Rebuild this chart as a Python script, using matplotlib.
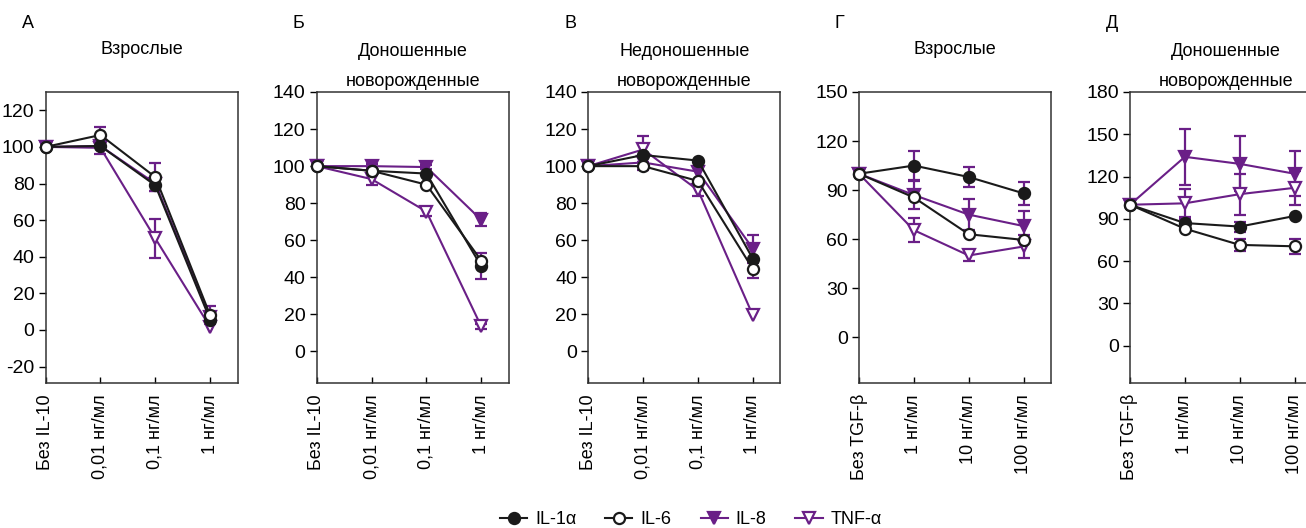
import matplotlib
matplotlib.use("Agg")
import matplotlib.pyplot as plt
from matplotlib.lines import Line2D

plt.rcParams['font.family'] = ['Liberation Sans', 'DejaVu Sans']
plt.rcParams['font.size'] = 13
plt.rcParams['axes.unicode_minus'] = False

PURPLE = "#6a1f87"
BLACK = "#1a1a1a"

labels_il10 = ["Без IL-10", "0,01 нг/мл", "0,1 нг/мл", "1 нг/мл"]
labels_tgf = ["Без TGF-β", "1 нг/мл", "10 нг/мл", "100 нг/мл"]

# A - adults, IL-10
a_il1a = [100, 100.5, 79, 5.5]
a_il1a_err = [0, 0, 3, 0]
a_il6 = [100, 106.5, 83.5, 8]
a_il6_err = [0, 4.5, 7.5, 5]
a_il8 = [100, 100.5, 80, 7]
a_il8_err = [0, 0, 0, 0]
a_tnf = [100, 99.5, 50, 1.5]
a_tnf_err = [0, 3.5, 10.5, 0]

# Б - term newborns, IL-10
b_il1a = [100, 97.5, 96, 46]
b_il1a_err = [0, 0, 0, 7]
b_il6 = [100, 97.5, 90, 49]
b_il6_err = [0, 0, 0, 0]
b_il8 = [100, 100, 99.5, 71]
b_il8_err = [0, 1, 1, 3.5]
b_tnf = [100, 93, 75.5, 13.5]
b_tnf_err = [0, 3, 2.5, 1.5]

# В - preterm newborns, IL-10
c_il1a = [100, 106, 103, 50]
c_il1a_err = [0, 0, 0, 0]
c_il6 = [100, 100, 92, 44.5]
c_il6_err = [0, 2, 0, 5]
c_il8 = [100, 102, 97, 55.5]
c_il8_err = [0, 0, 0, 7.5]
c_tnf = [100, 109, 87, 19.5]
c_tnf_err = [0, 7, 3, 0]

# Г - adults, TGF-beta
d_il1a = [100, 105, 98, 88]
d_il1a_err = [0, 9, 6, 7]
d_il6 = [100, 85.5, 63, 59.5]
d_il6_err = [0, 0, 0, 0]
d_il8 = [100, 87, 75, 68]
d_il8_err = [0, 8.5, 9.5, 9.5]
d_tnf = [100, 65.5, 50, 55.5]
d_tnf_err = [0, 7.5, 3.5, 7]

# Д - term newborns, TGF-beta
e_il1a = [100, 87, 84.5, 92]
e_il1a_err = [0, 3, 3.5, 0]
e_il6 = [100, 83, 71.5, 70.5]
e_il6_err = [0, 0, 4, 5.5]
e_il8 = [100, 134, 129, 122]
e_il8_err = [0, 20, 19.5, 16]
e_tnf = [100, 101, 107.5, 112]
e_tnf_err = [0, 10, 14.5, 12]

panels = [
    ("А", "Взрослые", labels_il10, (-29, 130), range(-20, 121, 20), 45.6,
     [(a_tnf, a_tnf_err), (a_il8, a_il8_err), (a_il1a, a_il1a_err), (a_il6, a_il6_err)]),
    ("Б", "Доношенные\nноворожденные", labels_il10, (-17, 140), range(0, 141, 20), 316.7,
     [(b_tnf, b_tnf_err), (b_il8, b_il8_err), (b_il1a, b_il1a_err), (b_il6, b_il6_err)]),
    ("В", "Недоношенные\nноворожденные", labels_il10, (-17, 140), range(0, 141, 20), 588.3,
     [(c_tnf, c_tnf_err), (c_il8, c_il8_err), (c_il1a, c_il1a_err), (c_il6, c_il6_err)]),
    ("Г", "Взрослые", labels_tgf, (-28, 150), range(0, 151, 30), 859.0,
     [(d_tnf, d_tnf_err), (d_il8, d_il8_err), (d_il1a, d_il1a_err), (d_il6, d_il6_err)]),
    ("Д", "Доношенные\nноворожденные", labels_tgf, (-26.5, 180), range(0, 181, 30), 1130.0,
     [(e_tnf, e_tnf_err), (e_il8, e_il8_err), (e_il1a, e_il1a_err), (e_il6, e_il6_err)]),
]

# drawing order: TNF, IL-8, IL-1a, IL-6
styles = [
    dict(color=PURPLE, marker="v", mfc="white", mec=PURPLE),
    dict(color=PURPLE, marker="v", mfc=PURPLE, mec=PURPLE),
    dict(color=BLACK, marker="o", mfc=BLACK, mec=BLACK),
    dict(color=BLACK, marker="o", mfc="white", mec=BLACK),
]

W, H = 1306, 528
fig = plt.figure(figsize=(W / 100, H / 100), dpi=100)

ax_w = 192
top, bottom = 92, 383

for letter, title, xlabels, ylim, yticks, left, series in panels:
    ax = fig.add_axes([left / W, 1 - bottom / H, ax_w / W, (bottom - top) / H])
    x = list(range(len(xlabels)))
    # error bars only where there is one
    for vals, err in series:
        idx = [i for i in x if err[i] > 0]
        if idx:
            ax.errorbar([x[i] for i in idx], [vals[i] for i in idx],
                        yerr=[err[i] for i in idx], fmt="none",
                        ecolor=PURPLE, elinewidth=1.6, capsize=4.5, capthick=1.6, zorder=2)
    for (vals, err), st in zip(series, styles):
        ax.plot(x, vals, lw=1.5, ms=8, mew=1.6, clip_on=False, zorder=3, **st)
    ax.set_xlim(0, 3.5)
    ax.set_ylim(*ylim)
    ax.set_yticks(list(yticks))
    ax.set_xticks(x)
    ax.set_xticklabels(xlabels, rotation=90, va="top", ha="center")
    ax.tick_params(axis="x", direction="in", length=4, width=1, pad=8)
    ax.tick_params(axis="y", direction="out", length=5, width=1, pad=3, labelsize=14)
    for sp in ax.spines.values():
        sp.set_linewidth(1.1)
        sp.set_color("#333333")
    if "\n" in title:
        ax.set_title(title, fontsize=13, pad=4, linespacing=2.0)
    else:
        ax.set_title(title, fontsize=13, pad=27)
    fig.text((left - 24) / W, 1 - 23 / H, letter, fontsize=13, ha="left", va="center")

handles = [
    Line2D([], [], color=BLACK, marker="o", mfc=BLACK, mec=BLACK, lw=1.5, ms=8, mew=1.6),
    Line2D([], [], color=BLACK, marker="o", mfc="white", mec=BLACK, lw=1.5, ms=8, mew=1.6),
    Line2D([], [], color=PURPLE, marker="v", mfc=PURPLE, mec=PURPLE, lw=1.5, ms=8, mew=1.6),
    Line2D([], [], color=PURPLE, marker="v", mfc="white", mec=PURPLE, lw=1.5, ms=8, mew=1.6),
]
fig.legend(handles, ["IL-1α", "IL-6", "IL-8", "TNF-α"], loc="center",
           bbox_to_anchor=(691 / W, 1 - 520 / H), ncol=4, frameon=False,
           handlelength=1.5, handletextpad=0.45, columnspacing=1.6, fontsize=13)

fig.savefig("out.png", dpi=100)
